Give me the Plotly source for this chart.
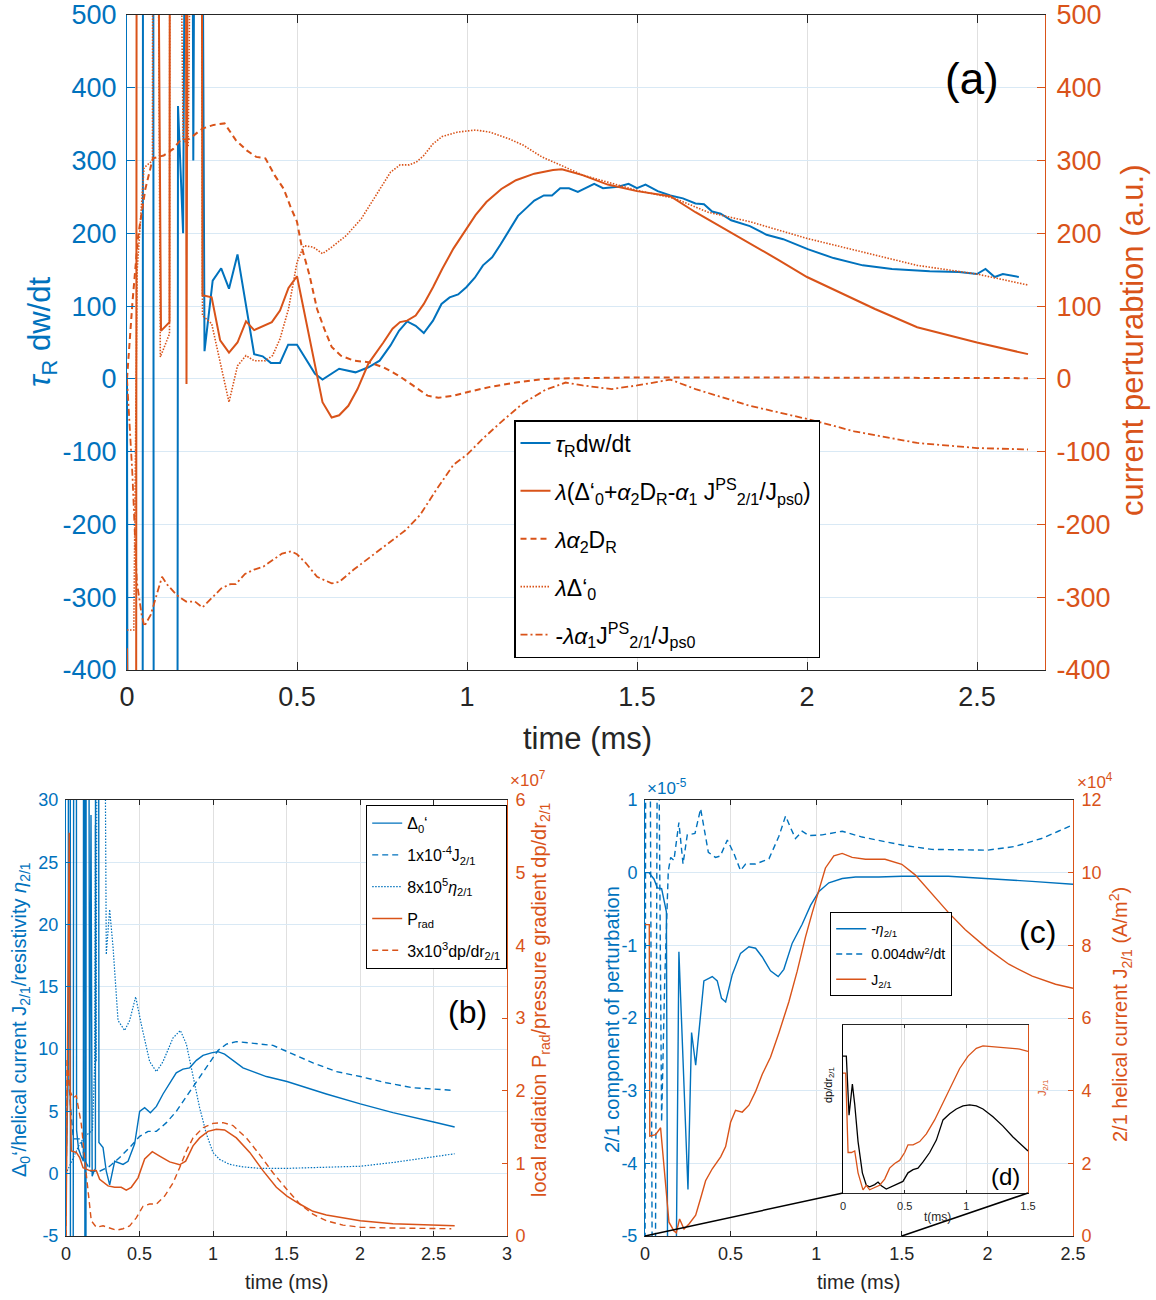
import plotly.graph_objects as go

# ---------------- data ----------------
# Panel (a): tau_R dw/dt (left axis) and current perturbation terms (right axis)
a_tau_t = [0, 0.005, 0.045, 0.048, 0.076, 0.08, 0.146, 0.15, 0.165, 0.185, 0.195, 0.21, 0.228, 0.252, 0.277, 0.30, 0.325,
           0.374, 0.399, 0.423, 0.45, 0.474, 0.5, 0.553, 0.575, 0.624, 0.672, 0.71, 0.743, 0.775, 0.8, 0.824, 0.849,
           0.873, 0.9, 0.925, 0.949, 0.974, 0.998, 1.023, 1.047, 1.074, 1.099, 1.123, 1.15, 1.175, 1.198, 1.226, 1.25,
           1.274, 1.30, 1.326, 1.374, 1.40, 1.445, 1.475, 1.5, 1.525, 1.561, 1.598, 1.635, 1.672, 1.697, 1.721, 1.746,
           1.777, 1.832, 1.881, 1.93, 2.004, 2.078, 2.164, 2.25, 2.361, 2.447, 2.5, 2.525, 2.552, 2.576, 2.623]
a_tau_v = [0, -2000, -2000, 2000, 2000, -2000, -2000, 375, 200, 2000, 300, 2000, 38, 135, 152, 124, 171,
           34, 31, 22, 22, 47, 47, 7, -1, 14, 9, 16, 25, 46, 66, 79, 73,
           63, 80, 103, 112, 116, 126, 139, 156, 167, 185, 203, 224, 235, 245, 252, 252,
           262, 262, 257, 268, 262, 264, 268, 262, 267, 258, 252, 248, 241, 240, 230, 227,
           218, 210, 198, 192, 178, 166, 156, 151, 148, 147, 144, 151, 140, 144, 140]

a_tot_t = [0, 0.025, 0.03, 0.073, 0.1, 0.125, 0.128, 0.17, 0.175, 0.185, 0.215, 0.222, 0.249, 0.274, 0.30, 0.325, 0.35,
           0.374, 0.426, 0.45, 0.475, 0.5, 0.575, 0.602, 0.624, 0.651, 0.678, 0.71, 0.754, 0.781, 0.803, 0.824, 0.849,
           0.873, 0.9, 0.927, 0.96, 0.992, 1.025, 1.057, 1.101, 1.144, 1.198, 1.253, 1.279, 1.34, 1.414, 1.5, 1.598,
           1.672, 1.758, 1.832, 1.918, 2.0, 2.078, 2.2, 2.324, 2.5, 2.65]
a_tot_v = [-370, -2000, 2000, 2000, 66, 78, 2000, 2000, -7, 2000, 2000, 115, 112, 53, 36, 50, 79,
           67, 78, 94, 125, 141, -32, -53, -50, -37, -14, 21, 50, 69, 78, 80, 87,
           103, 126, 151, 179, 202, 225, 243, 261, 273, 282, 287, 288, 280, 267, 258, 251,
           229, 206, 187, 163, 140, 123, 96, 71, 50, 34]

a_dr_t = [0, 0.016, 0.033, 0.054, 0.076, 0.108, 0.136, 0.157, 0.184, 0.222, 0.255, 0.287, 0.32, 0.352, 0.38, 0.407,
          0.434, 0.461, 0.483, 0.5, 0.515, 0.537, 0.559, 0.58, 0.602, 0.629, 0.667, 0.71, 0.754, 0.797, 0.841, 0.884,
          0.916, 0.96, 1.003, 1.068, 1.144, 1.231, 1.326, 1.5, 1.8, 2.1, 2.4, 2.65]
a_dr_v = [0, 105, 197, 261, 303, 307, 316, 328, 330, 344, 349, 351, 328, 314, 305, 303,
          280, 261, 234, 216, 179, 142, 96, 69, 44, 32, 25, 23, 16, 5, -9, -23,
          -26, -23, -18, -11, -5, 0, 1, 2, 2, 2, 1.5, 1]

a_d0_t = [0, 0.02, 0.03, 0.05, 0.075, 0.078, 0.098, 0.125, 0.128, 0.165, 0.18, 0.19, 0.215, 0.222, 0.249, 0.274,
          0.30, 0.325, 0.35, 0.374, 0.407, 0.428, 0.45, 0.475, 0.5, 0.52, 0.548, 0.575, 0.602, 0.645, 0.689, 0.732,
          0.775, 0.803, 0.83, 0.851, 0.873, 0.9, 0.927, 0.971, 1.025, 1.068, 1.123, 1.166, 1.22, 1.274, 1.34, 1.5,
          1.611, 1.709, 1.832, 2.0, 2.2, 2.324, 2.5, 2.65]
a_d0_v = [-345, -345, 150, 290, 300, 2000, 30, 62, 2000, 330, 320, 2000, 2000, 87, 76, 23,
          -32, 18, 32, 25, 25, 32, 55, 96, 160, 183, 181, 172, 181, 197, 220, 252,
          284, 294, 294, 298, 307, 323, 333, 339, 342, 339, 330, 321, 305, 294, 280, 259,
          248, 229, 216, 193, 170, 156, 144, 129]

a_js_t = [0, 0.016, 0.029, 0.043, 0.051, 0.07, 0.087, 0.103, 0.119, 0.146, 0.174, 0.2, 0.222, 0.249, 0.277, 0.304,
          0.32, 0.347, 0.374, 0.401, 0.428, 0.456, 0.483, 0.5, 0.526, 0.559, 0.602, 0.624, 0.667, 0.71, 0.765, 0.819,
          0.862, 0.906, 0.96, 1.0, 1.047, 1.101, 1.166, 1.231, 1.29, 1.34, 1.426, 1.5, 1.598, 1.672, 1.832, 2.0,
          2.139, 2.324, 2.5, 2.65]
a_js_v = [0, -132, -279, -324, -340, -324, -297, -272, -283, -297, -306, -306, -314, -301, -288, -282,
          -282, -268, -262, -258, -249, -240, -237, -241, -253, -272, -281, -279, -262, -247, -228, -208,
          -187, -155, -118, -104, -82, -59, -33, -15, -5, -9, -14, -9, -1, -14, -37, -55,
          -72, -88, -95, -97]

a_ticks_x = [0, 0.5, 1, 1.5, 2, 2.5]
a_ticks_y = [-400, -300, -200, -100, 0, 100, 200, 300, 400, 500]

# Panel (b)
b_d0_t = [0, 0.015, 0.025, 0.035, 0.05, 0.065, 0.072, 0.085, 0.1, 0.118, 0.125, 0.132, 0.14, 0.16, 0.17, 0.178,
          0.19, 0.2, 0.205, 0.215, 0.224, 0.252, 0.274, 0.297, 0.331, 0.354, 0.388, 0.422, 0.467, 0.501, 0.535,
          0.574, 0.615, 0.66, 0.705, 0.75, 0.796, 0.841, 0.887, 0.932, 0.989, 1.034, 1.079, 1.136, 1.204, 1.272,
          1.363, 1.503, 1.635, 1.771, 2.002, 2.224, 2.501, 2.644]
b_d0_v = [0, 8, 200, -200, 6, 200, 3.5, 2.0, 1.5, 1.0, 200, -200, 200, 0.5, 28.8, -0.2,
          0.2, 0.4, 200, 200, 2.5, 2.1, 0.2, -0.9, 1.0, 0.9, 0.75, 1.0, 2.4, 5.0, 5.3,
          4.9, 5.4, 6.4, 7.3, 8.1, 8.4, 8.5, 9.1, 9.5, 9.7, 9.8, 9.6, 9.1, 8.5, 8.2,
          7.8, 7.4, 6.9, 6.4, 5.6, 4.9, 4.15, 3.75]

b_j_t = [0, 0.012, 0.03, 0.05, 0.1, 0.13, 0.17, 0.229, 0.297, 0.365, 0.433, 0.501, 0.558, 0.615, 0.683, 0.75,
         0.819, 0.887, 0.955, 1.034, 1.091, 1.159, 1.25, 1.408, 1.544, 1.68, 1.839, 2.002, 2.179, 2.36, 2.501, 2.621]
b_j_v = [0, 9, 5.5, 2.8, 2.8, 1.0, 0.2, 0.2, 0.6, 1.3, 2.1, 3.0, 3.4, 3.4, 4.1, 5.0,
         6.2, 7.4, 8.6, 9.9, 10.4, 10.6, 10.5, 10.3, 9.6, 8.9, 8.2, 7.8, 7.3, 6.9, 6.8, 6.7]

b_eta_t = [0, 0.05, 0.093, 0.13, 0.18, 0.195, 0.2, 0.205, 0.215, 0.255, 0.274, 0.297, 0.32, 0.354, 0.399, 0.433,
           0.474, 0.512, 0.569, 0.615, 0.66, 0.728, 0.778, 0.819, 0.864, 0.909, 0.955, 1.0, 1.045, 1.113, 1.204,
           1.317, 1.503, 1.771, 2.002, 2.224, 2.501, 2.644]
b_eta_v = [0, 1.3, 2.4, 3.0, 3.5, 8.8, 28, 9, 60, 60, 17.6, 21.2, 18.2, 12.3, 11.5, 12.3,
           14.2, 12.0, 9.0, 8.2, 9.0, 10.9, 11.5, 10.4, 7.7, 5.3, 3.2, 1.7, 1.15, 0.75, 0.55,
           0.43, 0.43, 0.5, 0.6, 0.9, 1.4, 1.6]

b_prad_t = [0, 0.01, 0.022, 0.028, 0.036, 0.07, 0.093, 0.116, 0.161, 0.206, 0.229, 0.286, 0.331, 0.376, 0.41,
            0.444, 0.49, 0.535, 0.587, 0.637, 0.705, 0.773, 0.814, 0.864, 0.909, 0.966, 1.023, 1.079, 1.159, 1.25,
            1.34, 1.431, 1.503, 1.59, 1.68, 1.771, 1.907, 2.002, 2.224, 2.501, 2.644]
b_prad_v = [0, 2.5, 5.55, 2.0, 1.17, 1.15, 1.08, 0.94, 0.9, 0.9, 0.78, 0.69, 0.67, 0.67, 0.63,
            0.67, 0.80, 1.06, 1.16, 1.1, 1.02, 0.98, 1.03, 1.24, 1.35, 1.44, 1.47, 1.46, 1.35, 1.15,
            0.9, 0.67, 0.55, 0.44, 0.34, 0.29, 0.24, 0.21, 0.17, 0.15, 0.14]

b_dp_t = [0, 0.007, 0.025, 0.048, 0.07, 0.104, 0.138, 0.172, 0.206, 0.252, 0.297, 0.342, 0.388, 0.433, 0.478,
          0.524, 0.569, 0.615, 0.671, 0.728, 0.773, 0.819, 0.864, 0.932, 1.0, 1.068, 1.136, 1.227, 1.317, 1.408,
          1.503, 1.59, 1.68, 1.771, 1.884, 2.002, 2.224, 2.501, 2.621]
b_dp_v = [0, 2.45, 2.0, 1.9, 1.93, 1.54, 0.85, 0.21, 0.12, 0.14, 0.11, 0.08, 0.1, 0.14, 0.25,
          0.41, 0.44, 0.44, 0.55, 0.73, 0.94, 1.17, 1.35, 1.49, 1.55, 1.56, 1.52, 1.35, 1.12, 0.87,
          0.64, 0.44, 0.30, 0.21, 0.15, 0.12, 0.11, 0.1, 0.1]

b_ticks_x = [0, 0.5, 1, 1.5, 2, 2.5, 3]
b_ticks_yl = [-5, 0, 5, 10, 15, 20, 25, 30]
b_ticks_yr = [0, 1, 2, 3, 4, 5, 6]

# Panel (c)
c_eta_t = [0, 0.023, 0.053, 0.072, 0.097, 0.115, 0.125, 0.133, 0.18, 0.198, 0.251, 0.272, 0.296, 0.344, 0.393,
           0.422, 0.447, 0.471, 0.51, 0.558, 0.607, 0.646, 0.685, 0.733, 0.778, 0.811, 0.86, 0.918, 0.967, 1.016,
           1.074, 1.152, 1.23, 1.366, 1.5, 1.773, 2.0, 2.26, 2.5]
c_eta_v = [0, 0, -0.09, -0.21, -0.22, -0.4, -0.54, -6, -6, -1.09, -4.36, -2.2, -2.65, -1.49, -1.43,
           -1.49, -1.73, -1.78, -1.4, -1.11, -1.02, -1.04, -1.16, -1.35, -1.43, -1.33, -0.97, -0.71, -0.45, -0.26,
           -0.14, -0.08, -0.06, -0.06, -0.05, -0.05, -0.08, -0.12, -0.16]

c_dw_t = [0, 0.004, 0.03, 0.043, 0.06, 0.072, 0.08, 0.097, 0.115, 0.136, 0.15, 0.169, 0.198, 0.222, 0.247, 0.292,
          0.325, 0.37, 0.412, 0.44, 0.481, 0.52, 0.558, 0.588, 0.646, 0.724, 0.782, 0.821, 0.85, 0.879, 0.918, 0.957,
          1.035, 1.152, 1.268, 1.402, 1.5, 1.676, 1.871, 2.0, 2.16, 2.316, 2.414, 2.5]
c_dw_v = [-6, 2, 2, -6, -6, 2, 2, -3.43, -1.5, 0.02, 0.21, 0.17, 0.69, 0.12, 0.52, 0.54,
          0.88, 0.28, 0.21, 0.23, 0.45, 0.26, 0.03, 0.12, 0.12, 0.19, 0.5, 0.78, 0.62, 0.47, 0.57, 0.51,
          0.52, 0.57, 0.49, 0.43, 0.38, 0.32, 0.31, 0.31, 0.36, 0.47, 0.57, 0.66]

c_j_t = [0, 0.025, 0.028, 0.062, 0.091, 0.111, 0.14, 0.169, 0.183, 0.202, 0.228, 0.257, 0.296, 0.325, 0.354,
         0.393, 0.442, 0.471, 0.5, 0.529, 0.568, 0.607, 0.646, 0.685, 0.733, 0.782, 0.84, 0.889, 0.938, 0.977,
         1.016, 1.054, 1.103, 1.152, 1.21, 1.288, 1.402, 1.5, 1.578, 1.676, 1.773, 1.871, 2.0, 2.125, 2.262,
         2.398, 2.5]
c_j_v = [8.57, 8.57, 2.75, 2.79, 2.98, 1.89, 0.38, 0.14, 0.09, 0.47, 0.19, 0.33, 0.57, 1.04, 1.52,
         1.85, 2.18, 2.46, 3.13, 3.46, 3.41, 3.6, 3.98, 4.45, 4.92, 5.59, 6.44, 7.29, 8.24, 8.9,
         9.56, 10.13, 10.46, 10.53, 10.42, 10.37, 10.37, 10.23, 9.94, 9.42, 8.9, 8.43, 7.91, 7.48, 7.15,
         6.93, 6.82]

c_ticks_x = [0, 0.5, 1, 1.5, 2, 2.5]
c_ticks_yl = [-5, -4, -3, -2, -1, 0, 1]
c_ticks_yr = [0, 2, 4, 6, 8, 10, 12]

# Inset (d) (normalised units)
d_dp_t = [0, 0.027, 0.049, 0.076, 0.095, 0.122, 0.157, 0.189, 0.216, 0.257, 0.284, 0.311, 0.351, 0.392, 0.438,
          0.486, 0.527, 0.568, 0.608, 0.649, 0.703, 0.757, 0.811, 0.865, 0.919, 0.973, 1.027, 1.081, 1.135, 1.216,
          1.297, 1.378, 1.459, 1.5]
d_dp_v = [0.815, 0.815, 0.463, 0.648, 0.528, 0.306, 0.12, 0.046, 0.037, 0.05, 0.065, 0.043, 0.024, 0.037, 0.056,
          0.069, 0.12, 0.139, 0.148, 0.185, 0.241, 0.315, 0.435, 0.472, 0.5, 0.519, 0.524, 0.519, 0.5, 0.454,
          0.398, 0.333, 0.278, 0.25]
d_j_t = [0, 0.022, 0.041, 0.068, 0.095, 0.122, 0.162, 0.189, 0.216, 0.257, 0.297, 0.338, 0.378, 0.419, 0.459,
         0.5, 0.527, 0.568, 0.622, 0.676, 0.743, 0.811, 0.878, 0.946, 1.014, 1.081, 1.135, 1.216, 1.324, 1.432, 1.5]
d_j_v = [0.713, 0.713, 0.241, 0.241, 0.25, 0.12, 0.019, 0.046, 0.019, 0.031, 0.046, 0.083, 0.148, 0.176, 0.194,
         0.241, 0.287, 0.287, 0.306, 0.352, 0.435, 0.537, 0.639, 0.741, 0.815, 0.861, 0.876, 0.87, 0.865, 0.857, 0.843]
d_ticks_x = [0, 0.5, 1, 1.5]

# ---------------- styling ----------------
BLUE = "#0072BD"
ORANGE = "#D95319"
DARK = "#262626"
BLACK = "#000000"
FONT = "Liberation Sans, Arial, Helvetica, sans-serif"
W, H = 1156, 1300
GRID_X = "#e0e0e0"
GRID_Y = "#d9e9f5"


def px_x(p):
    return p / W


def px_y(p):
    return 1 - p / H


XA = [px_x(127), px_x(1045)]
YA = [px_y(670), px_y(15)]
XB = [px_x(66), px_x(507)]
YB = [px_y(1236), px_y(800)]
XC = [px_x(645), px_x(1073)]
YC = YB
XD = [px_x(843), px_x(1028)]
YD = [px_y(1193), px_y(1025)]


def lbl(v):
    return "%g" % v


fig = go.Figure()


def add(x, y, xa, ya, color, width, dash, name, legend=None):
    fig.add_trace(go.Scatter(
        x=x, y=y, mode="lines", xaxis=xa, yaxis=ya, name=name,
        line=dict(color=color, width=width, dash=dash),
        showlegend=legend is not None, legend=legend if legend else "legend",
        legendgroup=name, hoverinfo="skip"))


DASH = "6px,4px"
DOT = "1.5px,1.5px"
DASHDOT = "7px,3px,2px,3px"

# (a)
add(a_tau_t, a_tau_v, "x", "y", BLUE, 2, "solid", "<i>τ</i><sub>R</sub>dw/dt", "legend")
add(a_tot_t, a_tot_v, "x", "y2", ORANGE, 2, "solid",
    "<i>λ</i>(Δ‘<sub>0</sub>+<i>α</i><sub>2</sub>D<sub>R</sub>-<i>α</i><sub>1</sub> J<sup>PS</sup><sub>2/1</sub>/J<sub>ps0</sub>)",
    "legend")
add(a_dr_t, a_dr_v, "x", "y2", ORANGE, 2, DASH, "<i>λα</i><sub>2</sub>D<sub>R</sub>", "legend")
add(a_d0_t, a_d0_v, "x", "y2", ORANGE, 1.6, DOT, "<i>λ</i>Δ‘<sub>0</sub>", "legend")
add(a_js_t, a_js_v, "x", "y2", ORANGE, 1.8, DASHDOT,
    "-<i>λα</i><sub>1</sub>J<sup>PS</sup><sub>2/1</sub>/J<sub>ps0</sub>", "legend")

# (b)
add(b_d0_t, b_d0_v, "x2", "y3", BLUE, 1.4, "solid", "Δ<sub>0</sub>‘", "legend2")
add(b_j_t, b_j_v, "x2", "y3", BLUE, 1.4, DASH, "1x10<sup>-4</sup>J<sub>2/1</sub>", "legend2")
add(b_eta_t, b_eta_v, "x2", "y3", BLUE, 1.2, DOT, "8x10<sup>5</sup><i>η</i><sub>2/1</sub>", "legend2")
add(b_prad_t, b_prad_v, "x2", "y4", ORANGE, 1.5, "solid", "P<sub>rad</sub>", "legend2")
add(b_dp_t, b_dp_v, "x2", "y4", ORANGE, 1.4, DASH, "3x10<sup>3</sup>dp/dr<sub>2/1</sub>", "legend2")

# (c)
add(c_eta_t, c_eta_v, "x3", "y5", BLUE, 1.4, "solid", "-<i>η</i><sub>2/1</sub>", "legend3")
add(c_dw_t, c_dw_v, "x3", "y5", BLUE, 1.4, DASH, "0.004dw<sup>2</sup>/dt", "legend3")
add(c_j_t, c_j_v, "x3", "y6", ORANGE, 1.4, "solid", "J<sub>2/1</sub>", "legend3")

# (d) inset
add(d_dp_t, d_dp_v, "x4", "y7", BLACK, 1.3, "solid", "dp/dr")
add(d_j_t, d_j_v, "x4", "y8", ORANGE, 1.3, "solid", "J")


def xaxis(dom, anchor, rng, tv, size, tlen, stand):
    return dict(domain=dom, anchor=anchor, range=rng, tickmode="array", tickvals=tv,
                ticktext=[lbl(v) for v in tv], ticks="inside", ticklen=tlen, tickcolor=DARK,
                showline=True, linecolor=DARK, linewidth=1, mirror="ticks", showgrid=True,
                gridcolor=GRID_X, gridwidth=1, zeroline=False, automargin=False,
                tickfont=dict(family=FONT, size=size, color=DARK), ticklabelstandoff=stand)


def yaxis(dom, anchor, rng, tv, size, tlen, color, side="left", overlay=None, grid=True, stand=2):
    d = dict(domain=dom, anchor=anchor, range=rng, tickmode="array", tickvals=tv,
             ticktext=[lbl(v) for v in tv], ticks="inside", ticklen=tlen, tickcolor=color,
             showline=True, linecolor=color, linewidth=1, mirror=False, showgrid=grid,
             gridcolor=GRID_Y, gridwidth=1, zeroline=False, automargin=False, side=side,
             tickfont=dict(family=FONT, size=size, color=color), ticklabelstandoff=stand)
    if overlay:
        d["overlaying"] = overlay
    return d


layout = dict(
    width=W, height=H, autosize=False,
    margin=dict(l=0, r=0, t=0, b=0, pad=0),
    paper_bgcolor="white", plot_bgcolor="rgba(0,0,0,0)",
    font=dict(family=FONT, color=DARK),
    xaxis=xaxis(XA, "y", [0, 2.7], a_ticks_x, 27, 8, 3),
    yaxis=yaxis(YA, "x", [-400, 500], a_ticks_y, 27, 8, BLUE, stand=4),
    yaxis2=yaxis(YA, "x", [-400, 500], a_ticks_y, 27, 8, ORANGE, side="right", overlay="y", grid=False, stand=5),
    xaxis2=xaxis(XB, "y3", [0, 3], b_ticks_x, 18, 5, 1),
    yaxis3=yaxis(YB, "x2", [-5, 30], b_ticks_yl, 18, 5, BLUE, stand=3),
    yaxis4=yaxis(YB, "x2", [0, 6], b_ticks_yr, 18, 5, ORANGE, side="right", overlay="y3", grid=False, stand=4),
    xaxis3=xaxis(XC, "y5", [0, 2.5], c_ticks_x, 18, 5, 1),
    yaxis5=yaxis(YC, "x3", [-5, 1], c_ticks_yl, 18, 5, BLUE, stand=3),
    yaxis6=yaxis(YC, "x3", [0, 12], c_ticks_yr, 18, 5, ORANGE, side="right", overlay="y5", grid=False, stand=4),
    xaxis4=xaxis(XD, "y7", [0, 1.5], d_ticks_x, 11, 3, 3),
    yaxis7=dict(domain=YD, anchor="x4", range=[0, 1], showline=True, linecolor=BLACK, linewidth=1,
                showticklabels=False, ticks="", showgrid=False, zeroline=False, automargin=False),
    yaxis8=dict(domain=YD, anchor="x4", range=[0, 1], overlaying="y7", side="right", showline=True,
                linecolor=ORANGE, linewidth=1, showticklabels=False, ticks="", showgrid=False,
                zeroline=False, automargin=False),
    legend=dict(x=px_x(514), y=px_y(420), xanchor="left", yanchor="top", bgcolor="white",
                bordercolor=BLACK, borderwidth=1.5, font=dict(family=FONT, size=23, color=BLACK),
                itemwidth=30, tracegroupgap=15),
    legend2=dict(x=px_x(366), y=px_y(805), xanchor="left", yanchor="top", bgcolor="white",
                 bordercolor=BLACK, borderwidth=1.2, font=dict(family=FONT, size=16, color=BLACK),
                 itemwidth=30, tracegroupgap=8),
    legend3=dict(x=px_x(830), y=px_y(912), xanchor="left", yanchor="top", bgcolor="white",
                 bordercolor=BLACK, borderwidth=1.2, font=dict(family=FONT, size=14, color=BLACK),
                 itemwidth=30, tracegroupgap=4),
)
fig.update_layout(**layout)

annos = []


def ann(text, x, y, size, color, angle=0, xanchor="center", yanchor="middle"):
    annos.append(dict(text=text, x=px_x(x), y=px_y(y), xref="paper", yref="paper", showarrow=False,
                      font=dict(family=FONT, size=size, color=color), textangle=angle,
                      xanchor=xanchor, yanchor=yanchor))


ann("time (ms)", 587, 738, 31, DARK)
ann("<i>τ</i><sub>R</sub> dw/dt", 42, 332, 31, BLUE, -90)
ann("current perturabtion (a.u.)", 1133, 340, 31, ORANGE, -90)
ann("(a)", 972, 78, 44, BLACK)

ann("time (ms)", 286, 1282, 20, DARK)
ann("Δ<sub>0</sub>‘/helical current J<sub>2/1</sub>/resistivity <i>η</i><sub>2/1</sub>", 20, 1020, 20, BLUE, -90)
ann("local radiation P<sub>rad</sub>/pressure gradient dp/dr<sub>2/1</sub>", 540, 1000, 20, ORANGE, -90)
ann("×10<sup>7</sup>", 508, 779, 17, ORANGE, xanchor="left")
ann("(b)", 467, 1012, 32, BLACK)

ann("time (ms)", 858, 1282, 20, DARK)
ann("2/1 component of perturbation", 612, 1020, 20, BLUE, -90)
ann("2/1 helical current J<sub>2/1</sub> (A/m<sup>2</sup>)", 1120, 1015, 20, ORANGE, -90)
ann("×10<sup>-5</sup>", 645, 787, 17, BLUE, xanchor="left")
ann("×10<sup>4</sup>", 1075, 781, 17, ORANGE, xanchor="left")
ann("(c)", 1037, 932, 32, BLACK)

ann("(d)", 1005, 1176, 24, BLACK)
ann("dp/dr<sub>2/1</sub>", 829, 1085, 11, BLACK, -90)
ann("J<sub>2/1</sub>", 1043, 1088, 11, ORANGE, -90)
ann("t(ms)", 937, 1217, 12, DARK)

fig.update_layout(annotations=annos)

# connector lines between panel (c) and inset (d)
cx0 = XC[0]
cx1 = XC[0] + (1.5 / 2.5) * (XC[1] - XC[0])
fig.add_shape(type="line", xref="paper", yref="paper", x0=cx0, y0=YC[0], x1=XD[0], y1=YD[0],
              line=dict(color=BLACK, width=1.5))
fig.add_shape(type="line", xref="paper", yref="paper", x0=cx1, y0=YC[0], x1=XD[1], y1=YD[0],
              line=dict(color=BLACK, width=1.5))

fig.write_html("out.html", config={"displayModeBar": False},
               post_script="document.body.style.margin='0px';")
